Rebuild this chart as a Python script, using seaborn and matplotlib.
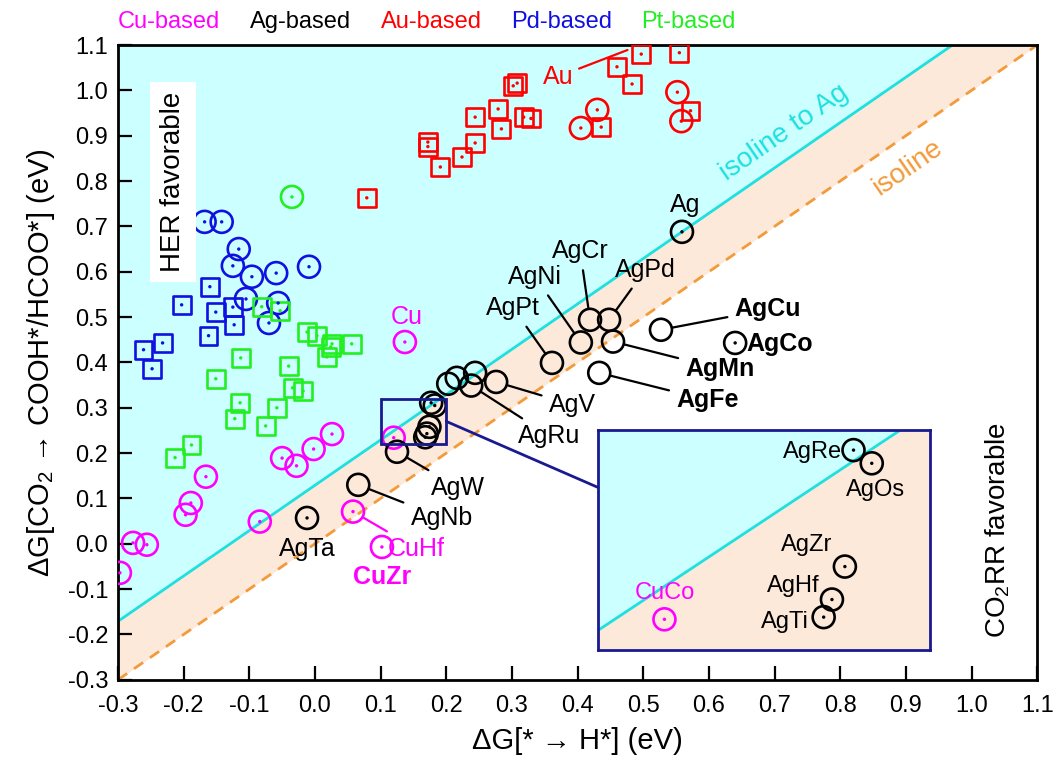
import numpy as np
import matplotlib
matplotlib.use("Agg")
import matplotlib.pyplot as plt
import seaborn as sns
from matplotlib.patches import Rectangle, ConnectionPatch

sns.set_theme(style="white")
plt.rcParams['font.family'] = ['Liberation Sans', 'DejaVu Sans']
plt.rcParams['axes.unicode_minus'] = False
plt.rcParams['mathtext.fontset'] = 'custom'
plt.rcParams['mathtext.rm'] = 'Liberation Sans'
plt.rcParams['mathtext.it'] = 'Liberation Sans:italic'

# ---------------- data ----------------
cu_x = [0.026, -0.002, -0.028, -0.050, -0.166, -0.189, -0.197, -0.084, -0.256, -0.277, -0.297,
        0.137, 0.058, 0.102, 0.120]
cu_y = [0.242, 0.209, 0.172, 0.189, 0.148, 0.090, 0.064, 0.049, -0.002, 0.002, -0.064,
        0.445, 0.071, -0.007, 0.234]

ag_names = ["Ag", "AgCr", "AgPd", "AgNi", "AgMn", "AgPt", "AgCu", "AgCo", "AgFe", "AgV", "AgRu",
            "AgW", "AgNb", "AgTa", "AgRe", "AgOs", "AgZr", "AgHf", "AgTi"]
ag_x = [0.559, 0.419, 0.448, 0.405, 0.454, 0.361, 0.527, 0.640, 0.433, 0.276, 0.238,
        0.125, 0.066, -0.012, 0.177, 0.1825, 0.1744, 0.1705, 0.168]
ag_y = [0.688, 0.494, 0.494, 0.444, 0.446, 0.399, 0.472, 0.443, 0.377, 0.357, 0.349,
        0.203, 0.130, 0.057, 0.311, 0.305, 0.258, 0.243, 0.235]
ag_other_x = [0.244, 0.216, 0.203]
ag_other_y = [0.377, 0.366, 0.353]

au_sq_x = [0.497, 0.555, 0.460, 0.483, 0.572, 0.436, 0.302, 0.308, 0.279, 0.244, 0.284,
           0.318, 0.329, 0.172, 0.172, 0.244, 0.224, 0.191, 0.079]
au_sq_y = [1.080, 1.083, 1.052, 1.014, 0.955, 0.919, 1.010, 1.016, 0.959, 0.941, 0.915,
           0.941, 0.938, 0.886, 0.876, 0.884, 0.853, 0.831, 0.763]
au_c_x = [0.552, 0.430, 0.405, 0.558]
au_c_y = [0.996, 0.957, 0.917, 0.932]

pd_c_x = [-0.168, -0.142, -0.116, -0.125, -0.096, -0.059, -0.009, -0.105, -0.056, -0.070]
pd_c_y = [0.710, 0.710, 0.650, 0.613, 0.589, 0.597, 0.611, 0.540, 0.531, 0.487]
pd_s_x = [-0.160, -0.203, -0.151, -0.125, -0.123, -0.162, -0.232, -0.261, -0.248]
pd_s_y = [0.567, 0.527, 0.511, 0.522, 0.483, 0.459, 0.443, 0.428, 0.386]

pt_c_x = [-0.035]
pt_c_y = [0.765]
pt_s_x = [-0.081, -0.053, -0.012, 0.003, 0.026, 0.018, 0.056, 0.024, -0.113, -0.040,
          -0.151, -0.034, -0.018, -0.114, -0.058, -0.122, -0.075, -0.188, -0.213]
pt_s_y = [0.523, 0.514, 0.467, 0.459, 0.441, 0.412, 0.441, 0.434, 0.410, 0.392,
          0.364, 0.344, 0.337, 0.311, 0.300, 0.276, 0.260, 0.218, 0.190]

x_ticks = [-0.3, -0.2, -0.1, 0.0, 0.1, 0.2, 0.3, 0.4, 0.5, 0.6, 0.7, 0.8, 0.9, 1.0, 1.1]
y_ticks = [-0.3, -0.2, -0.1, 0.0, 0.1, 0.2, 0.3, 0.4, 0.5, 0.6, 0.7, 0.8, 0.9, 1.0, 1.1]
groups = ["Cu-based", "Ag-based", "Au-based", "Pd-based", "Pt-based"]

# ---------------- styles ----------------
C_CU, C_AG, C_AU, C_PD, C_PT = "#ff00ff", "#000000", "#ff0000", "#1010e0", "#22ee22"
C_CYANFILL, C_PEACH = "#ccffff", "#fde9d9"
C_CYAN, C_ORANGE, C_NAVY = "#1ee0e0", "#f39a3a", "#1a1a90"
S_CIRC, S_SQ = 250, 165
FS = 18

fig = plt.figure(figsize=(10.53, 7.63), dpi=100)
ax = fig.add_axes([0.112, 0.109, 0.873, 0.832])

xs = np.array([-0.3, 1.1])
ag_off = ag_y[0] - ag_x[0]


def background(a):
    a.fill_between(xs, xs + ag_off, 2.0, color=C_CYANFILL, lw=0, zorder=0)
    a.fill_between(xs, xs, xs + ag_off, color=C_PEACH, lw=0, zorder=0)
    a.plot(xs, xs + ag_off, color=C_CYAN, lw=2, zorder=1)


def ring(a, x, y, color, marker, s, dots=True):
    sns.scatterplot(x=x, y=y, ax=a, marker=marker, s=s, facecolor='none',
                    edgecolor=color, linewidth=1.9, zorder=5, legend=False)
    if dots:
        sns.scatterplot(x=x, y=y, ax=a, marker='o', s=6, color=color,
                        edgecolor='none', linewidth=0, zorder=6, legend=False)


def draw_points(a):
    ring(a, au_sq_x, au_sq_y, C_AU, 's', S_SQ)
    ring(a, au_c_x, au_c_y, C_AU, 'o', S_CIRC)
    ring(a, pd_s_x, pd_s_y, C_PD, 's', S_SQ)
    ring(a, pd_c_x, pd_c_y, C_PD, 'o', S_CIRC)
    ring(a, pt_s_x, pt_s_y, C_PT, 's', S_SQ)
    ring(a, pt_c_x, pt_c_y, C_PT, 'o', S_CIRC)
    ring(a, cu_x, cu_y, C_CU, 'o', S_CIRC)
    dotted = {"Ag", "AgCo", "AgTa", "AgRe", "AgOs", "AgZr", "AgHf", "AgTi"}
    dx = [x for n, x in zip(ag_names, ag_x) if n in dotted]
    dy = [y for n, y in zip(ag_names, ag_y) if n in dotted]
    nx = [x for n, x in zip(ag_names, ag_x) if n not in dotted]
    ny = [y for n, y in zip(ag_names, ag_y) if n not in dotted]
    ring(a, dx, dy, C_AG, 'o', S_CIRC, True)
    ring(a, nx, ny, C_AG, 'o', S_CIRC, False)
    ring(a, ag_other_x, ag_other_y, C_AG, 'o', S_CIRC, False)


background(ax)
ax.plot(xs, xs, color=C_ORANGE, lw=2, ls=(0, (4, 3)), zorder=1)
draw_points(ax)

ax.set_xlim(-0.3, 1.1)
ax.set_ylim(-0.3, 1.1)
ax.set_xticks(x_ticks)
ax.set_yticks(y_ticks)
ax.set_xticklabels([f"{v:.1f}" for v in x_ticks])
ax.set_yticklabels([f"{v:.1f}" for v in y_ticks])
ax.tick_params(direction='in', length=10, width=1.6, top=False, right=False,
               labelsize=17, pad=7, colors='black', bottom=True, left=True)
ax.tick_params(axis='x', pad=11)
for sp in ax.spines.values():
    sp.set_color('black')
    sp.set_linewidth(2)
ax.set_xlabel("ΔG[* → H*] (eV)", fontsize=21, color='black', labelpad=7)
ax.set_ylabel("ΔG[CO$_2$ → COOH*/HCOO*] (eV)", fontsize=21, color='black', labelpad=8)

# ---- labels ----
lbl_line = {
    "AgCr": (0.404, 0.646), "AgPd": (0.503, 0.604), "AgNi": (0.335, 0.589),
    "AgPt": (0.302, 0.520), "AgMn": (0.617, 0.386), "AgFe": (0.598, 0.317),
    "AgV": (0.392, 0.307), "AgRu": (0.357, 0.238), "AgW": (0.218, 0.124),
    "AgNb": (0.193, 0.058), "AgCu": (0.690, 0.517),
}
bold = {"AgMn", "AgFe", "AgCu", "AgCo"}
for n, x, y in zip(ag_names, ag_x, ag_y):
    if n in lbl_line:
        tx, ty = lbl_line[n]
        ax.annotate(n, xy=(x, y), xytext=(tx, ty), ha='center', va='center',
                    fontsize=FS, fontweight='bold' if n in bold else 'normal', color='black',
                    arrowprops=dict(arrowstyle='-', color='black', lw=1.6, shrinkA=3, shrinkB=8),
                    zorder=7)
ax.text(ag_x[0] + 0.005, ag_y[0] + 0.060, "Ag", ha='center', va='center', fontsize=FS, color='black')
ax.text(ag_x[7] + 0.017, ag_y[7] - 0.002, "AgCo", ha='left', va='center', fontsize=FS,
        fontweight='bold', color='black')
ax.text(ag_x[13], ag_y[13] - 0.068, "AgTa", ha='center', va='center', fontsize=FS, color='black')

ax.text(cu_x[11] + 0.003, cu_y[11] + 0.055, "Cu", ha='center', va='center', fontsize=FS, color=C_CU)
ax.annotate("CuHf", xy=(cu_x[12], cu_y[12]), xytext=(0.155, -0.011), ha='center', va='center',
            fontsize=FS, color=C_CU,
            arrowprops=dict(arrowstyle='-', color=C_CU, lw=1.6, shrinkA=3, shrinkB=8))
ax.text(cu_x[13], cu_y[13] - 0.066, "CuZr", ha='center', va='center', fontsize=FS,
        fontweight='bold', color=C_CU)
ax.annotate("Au", xy=(0.476, 1.089), xytext=(0.370, 1.030), ha='center', va='center',
            fontsize=FS, color=C_AU,
            arrowprops=dict(arrowstyle='-', color=C_AU, lw=1.6, shrinkA=2, shrinkB=0))

ang = np.degrees(np.arctan2(0.832 * 7.63, 0.873 * 10.53))
ax.text(0.714, 0.906, "isoline to Ag", rotation=ang, ha='center', va='center',
        fontsize=20, color=C_CYAN, rotation_mode='anchor')
ax.text(0.903, 0.830, "isoline", rotation=ang, ha='center', va='center',
        fontsize=20, color=C_ORANGE, rotation_mode='anchor')
ax.text(-0.216, 0.798, "HER favorable", rotation=90, ha='center', va='center', fontsize=20,
        color='black', zorder=9,
        bbox=dict(boxstyle='square,pad=0.35', fc='white', ec='none'))
ax.text(1.040, 0.031, "CO$_2$RR favorable", rotation=90, ha='center', va='center',
        fontsize=20, color='black')

# ---- zoom box + inset ----
ax.add_patch(Rectangle((0.1, 0.22), 0.1, 0.1, fill=False, ec=C_NAVY, lw=2, zorder=8))
axins = fig.add_axes([0.568, 0.148, 0.315, 0.288])
background(axins)
draw_points(axins)
axins.set_xlim(0.1, 0.2)
axins.set_ylim(0.22, 0.32)
axins.set_xticks([])
axins.set_yticks([])
axins.set_xlabel("")
axins.set_ylabel("")
for sp in axins.spines.values():
    sp.set_color(C_NAVY)
    sp.set_linewidth(2)
ins_lbl = {"AgRe": (0.1735, 0.310, 'right'), "AgOs": (0.1837, 0.293, 'center'),
           "AgZr": (0.163, 0.268, 'center'), "AgHf": (0.1587, 0.249, 'center'),
           "AgTi": (0.1563, 0.233, 'center')}
for n, (tx, ty, ha) in ins_lbl.items():
    axins.text(tx, ty, n, ha=ha, va='center', fontsize=17, color='black')
axins.text(0.120, 0.246, "CuCo", ha='center', va='center', fontsize=17, color=C_CU)

con = ConnectionPatch(xyA=(0.2, 0.27), coordsA=ax.transData, xyB=(0.0, 0.74),
                      coordsB=axins.transAxes, color=C_NAVY, lw=2, zorder=8)
fig.add_artist(con)

# ---- top group legend ----
leg_x = [118, 250, 381, 511, 641]
for g, c, px in zip(groups, [C_CU, C_AG, C_AU, C_PD, C_PT], leg_x):
    fig.text(px / 1053, 1 - 22 / 763, g, ha='left', va='center', fontsize=17, color=c)

fig.savefig("out.png", dpi=100)
